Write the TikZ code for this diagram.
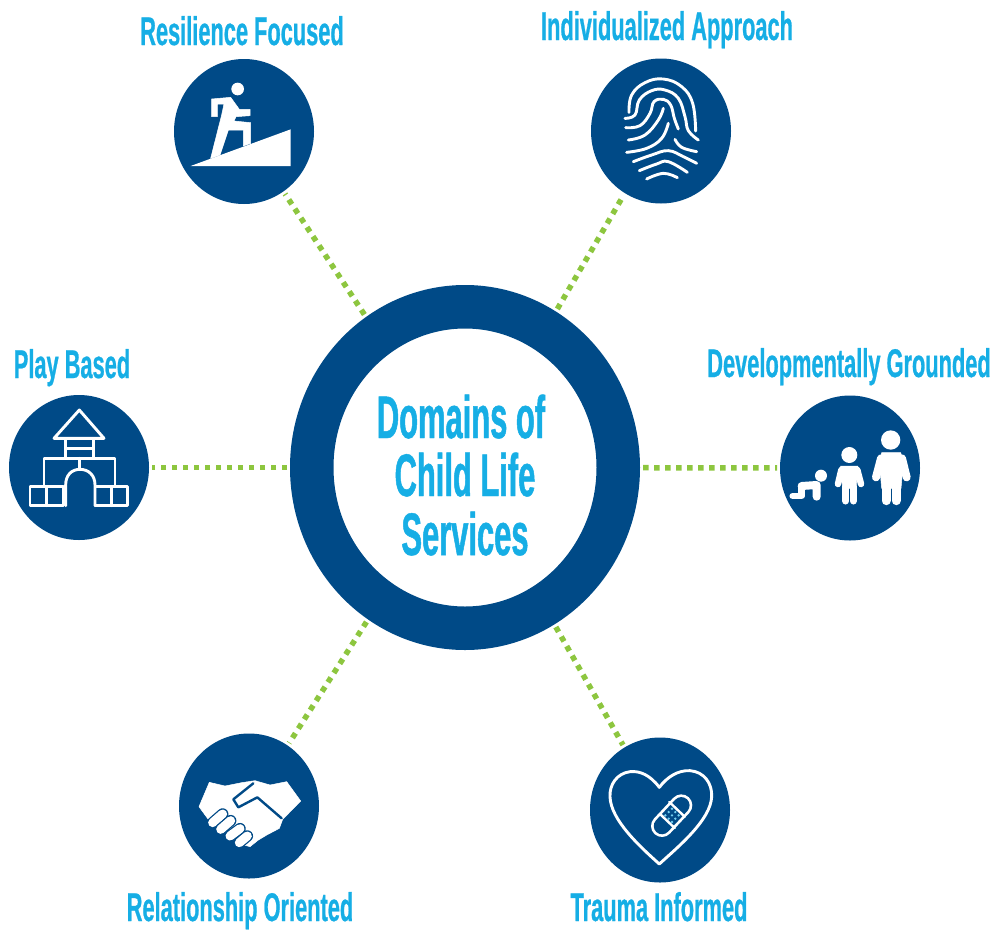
\documentclass[tikz,border=0pt]{standalone}
\usepackage{fontspec}
\usetikzlibrary{shapes.geometric}
\newfontfamily\condfont[FakeStretch=0.545,FakeBold=0.6]{Liberation Sans Bold}
\newfontfamily\hubfont[FakeStretch=0.515,FakeBold=0.8]{Liberation Sans Bold}
\definecolor{navy}{HTML}{004A87}
\definecolor{sky}{HTML}{16AEE5}
\definecolor{leaf}{HTML}{8DC63F}
\tikzset{
  discnode/.style={ellipse,fill=navy,minimum width=140pt,minimum height=145pt,inner sep=0pt,outer sep=0pt},
  hub/.style={ellipse,draw=navy,line width=43.5pt,fill=white,minimum width=306.5pt,minimum height=321.5pt,inner sep=0pt},
  hubtext/.style={anchor=base,text=sky,font=\hubfont\fontsize{60}{60}\selectfont,inner sep=0pt},
  tagtext/.style={anchor=base,text=sky,font=\condfont\fontsize{40}{44}\selectfont,inner sep=0pt},
  linkline/.style={draw=leaf,line width=5.5pt,dash pattern=on 5.5pt off 5.5pt,shorten >=3pt,shorten <=3pt},
  ink/.style={draw=white,line width=2.9pt,line cap=round,line join=round},
  inkfill/.style={fill=white,draw=white,line width=.5pt,line join=round},
  limb/.style={draw=white,line cap=round,line join=round}
}
\begin{document}
\begin{tikzpicture}[x=1pt,y=-1pt]
\useasboundingbox (0,0) rectangle (999,930);
\node[hub] (hub) at (465,467.5) {};
\node[hubtext] (h1) at (461,438) {Domains of};
\node[hubtext] (h2) at (465,496) {Child Life};
\node[hubtext] (h3) at (465,555) {Services};
\node[discnode] (res) at (244,131.5) {};
\node[discnode] (ind) at (661,131) {};
\node[discnode] (play) at (79,467.5) {};
\node[discnode] (dev) at (850,468) {};
\node[discnode] (rel) at (249,806) {};
\node[discnode] (tra) at (660,810) {};
\node[tagtext] (tres) at (242,45) {Resilience Focused};
\node[tagtext] (tind) at (667,40) {Individualized Approach};
\node[tagtext] (tplay) at (72,378) {Play Based};
\node[tagtext] (tdev) at (849,377) {Developmentally Grounded};
\node[tagtext] (trel) at (240,921) {Relationship Oriented};
\node[tagtext] (ttra) at (659,921) {Trauma Informed};
\foreach \d in {res,ind,play,dev,rel,tra}
  \draw[linkline] (hub) -- (\d);
% runner
\begin{scope}[shift={(160,0)},scale=1/3]
\fill[white] (92,498) -- (392,388) -- (392,498) -- cycle;
\fill[white] (233,267) circle (19);
\filldraw[inkfill] (155,350) -- (155,297) -- (212,292) -- (238,328) -- (270,328) -- (270,347) -- (228,350) -- (222,363) -- (272,368) -- (272,430) -- (250,438) -- (250,390) -- (205,390) -- (180,465) -- (152,475) -- (185,345) -- (192,312) -- (172,312) -- (172,350) -- cycle;
\end{scope}
% fingerprint
\begin{scope}[shift={(580,60)},scale=1/3]
\draw[ink] plot[smooth,tension=.7] coordinates {(147,157) (155,105) (195,68) (250,57) (305,80) (338,130) (347,213)};
\draw[ink] plot[smooth,tension=.7] coordinates {(135,175) (165,165) (178,120) (215,92) (255,90) (295,115) (315,170) (325,212) (355,240)};
\draw[ink] plot[smooth,tension=.7] coordinates {(137,203) (180,197) (210,160) (222,125) (250,118) (272,135) (283,175) (295,207)};
\draw[ink] plot[smooth,tension=.7] coordinates {(145,240) (195,225) (235,180) (250,145)};
\draw[ink] plot[smooth,tension=.7] coordinates {(140,277) (200,265) (245,235) (265,190)};
\draw[ink] plot[smooth,tension=.7] coordinates {(285,238) (305,262) (350,275)};
\draw[ink] plot[smooth,tension=.7] coordinates {(160,305) (215,285) (265,272) (310,290) (350,310)};
\draw[ink] plot[smooth,tension=.7] coordinates {(178,332) (230,312) (265,305) (322,337)};
\draw[ink] plot[smooth,tension=.7] coordinates {(200,357) (250,340) (292,353)};
\end{scope}
% castle
\begin{scope}[shift={(0,390)},scale=1/3]
\draw[ink] (238,60) -- (162,145) -- (312,145) -- cycle;
\draw[ink] (197,145) rectangle (280,205);
\draw[ink] (197,175) -- (280,175);
\draw[ink] (132,290) -- (132,205) -- (345,205) -- (345,290);
\draw[ink] (238,205) -- (238,238);
\draw[ink] (197,347) -- (197,285) .. controls (197,255) and (215,238) .. (240,238) .. controls (265,238) and (285,255) .. (285,285) -- (285,347);
\draw[ink] (90,290) rectangle (190,347);
\draw[ink] (140,290) -- (140,347);
\draw[ink] (285,290) rectangle (382,347);
\draw[ink] (335,290) -- (335,347);
\end{scope}
% family
\begin{scope}[shift={(770,390)},scale=1/3]
\fill[white] (153,257) circle (18);
\draw[limb,line width=8pt] (95,288) -- (140,285) -- (140,320);
\draw[limb,line width=6.5pt] (95,288) -- (95,318) -- (68,318);
\fill[white] (238,195) circle (24);
\draw[limb,line width=6.5pt] (214,240) -- (204,282);
\draw[limb,line width=6.5pt] (262,240) -- (273,282);
\filldraw[inkfill] (212,228) -- (264,228) -- (258,295) -- (218,295) -- cycle;
\draw[limb,line width=7pt] (227,290) -- (227,333);
\draw[limb,line width=7pt] (250,290) -- (250,333);
\fill[white] (362,150) circle (29);
\draw[limb,line width=8pt] (333,205) -- (318,262);
\draw[limb,line width=8pt] (396,205) -- (410,262);
\filldraw[inkfill] (335,188) -- (392,188) -- (400,215) -- (393,295) -- (335,295) -- (328,215) -- cycle;
\draw[limb,line width=9pt] (348,285) -- (348,332);
\draw[limb,line width=9pt] (378,285) -- (378,332);
\end{scope}
% handshake
\begin{scope}[shift={(170,730)},scale=1/3]
\filldraw[inkfill] (118,157) -- (165,168) -- (215,158) -- (255,152) -- (300,165) -- (350,155) -- (392,213) -- (338,268) -- (328,295) -- (290,315) -- (265,330) -- (240,350) -- (205,340) -- (120,275) -- (87,230) -- cycle;
\draw[navy,line width=2.4pt,line join=round,line cap=round] (250,160) -- (190,208) -- (205,232) -- (262,202) -- (335,265);
\foreach \a/\b/\c/\e in {128/278/158/252,152/298/182/272,180/318/210/296,208/338/232/318}{
  \draw[navy,line width=11.5pt,line cap=round] (\a,\b) -- (\c,\e);
  \draw[white,line width=9pt,line cap=round] (\a,\b) -- (\c,\e);
}
\end{scope}
% heart with plaster
\begin{scope}[shift={(580,730)},scale=1/3]
\draw[ink] (238,172) .. controls (210,135) and (180,122) .. (150,125) .. controls (110,130) and (88,165) .. (90,200) .. controls (92,270) and (180,350) .. (238,402) .. controls (295,350) and (392,270) .. (395,200) .. controls (397,160) and (372,125) .. (330,122) .. controls (295,120) and (262,140) .. (238,172) -- cycle;
\draw[white,line width=22pt,line cap=round] (246,288) -- (304,226);
\draw[navy,line width=16.5pt,line cap=round] (246,288) -- (304,226);
\draw[ink,line width=2.4pt] (240,252) -- (284,294);
\draw[ink,line width=2.4pt] (268,216) -- (314,260);
\foreach \i in {-1,0,1} \foreach \j in {-1,0,1}
  \fill[sky!60!white] (276+\i*10+\j*10,256-\i*10+\j*10) circle (4);
\end{scope}
\end{tikzpicture}
\end{document}
